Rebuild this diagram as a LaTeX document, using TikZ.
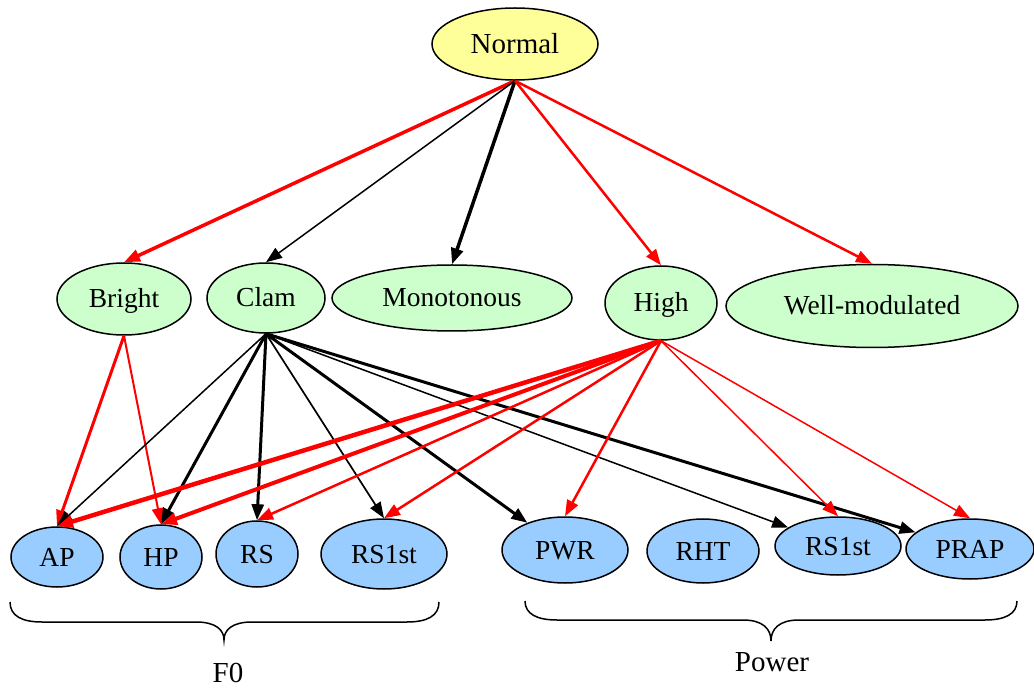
\documentclass[tikz,border=0pt]{standalone}
\usepackage{fontspec}
\setmainfont{Liberation Serif}
\usetikzlibrary{arrows.meta,shapes.geometric}
\definecolor{topfill}{RGB}{255,255,153}
\definecolor{midfill}{RGB}{204,255,204}
\definecolor{lowfill}{RGB}{153,204,255}
\definecolor{linkred}{RGB}{255,0,0}
\tikzset{
  state/.style={ellipse, draw=black, line width=1.5pt, inner sep=0pt,
    font=\fontsize{27.5}{30}\selectfont, text height=18pt, text depth=0pt},
  rootstate/.style={state, fill=topfill, font=\fontsize{29}{32}\selectfont, text height=19pt},
  midstate/.style={state, fill=midfill},
  lowstate/.style={state, fill=lowfill},
  link/.style={-{Triangle[length=16pt,width=12pt]}, line width=#1pt},
  blk/.style={link=#1, draw=black},
  rd/.style={link=#1, draw=linkred},
  bracepath/.style={draw=black, line width=1.5pt},
  grouplabel/.style={font=\fontsize{29}{32}\selectfont, inner sep=0pt},
}
\begin{document}
\begin{tikzpicture}[x=1pt,y=-1pt]
\useasboundingbox (0,0) rectangle (1034,692);

% top level
\node[rootstate, minimum width=166pt, minimum height=72pt] (normal) at (515,44) {Normal};

% middle level
\node[midstate, minimum width=134pt, minimum height=72pt] (bright) at (124,299) {Bright};
\node[midstate, minimum width=118pt, minimum height=70pt] (clam) at (266,298) {Clam};
\node[midstate, minimum width=240pt, minimum height=66pt] (mono) at (452,298) {Monotonous};
\node[midstate, minimum width=112pt, minimum height=74pt] (high) at (661,303) {High};
\node[midstate, minimum width=292pt, minimum height=83pt] (wellmod) at (872,306) {Well-modulated};

% bottom level: F0 features
\node[lowstate, minimum width=92pt, minimum height=60pt] (ap) at (57,557) {AP};
\node[lowstate, minimum width=82pt, minimum height=64pt] (hp) at (161,557) {HP};
\node[lowstate, minimum width=82pt, minimum height=66pt] (rs) at (257,554) {RS};
\node[lowstate, minimum width=126pt, minimum height=70pt] (rsfirst) at (384,554) {RS1st};

% bottom level: power features
\node[lowstate, minimum width=126pt, minimum height=66pt] (pwr) at (565,550) {PWR};
\node[lowstate, minimum width=112pt, minimum height=64pt] (rht) at (703,551) {RHT};
\node[lowstate, minimum width=126pt, minimum height=58pt] (rspow) at (838,546) {RS1st};
\node[lowstate, minimum width=128pt, minimum height=60pt] (prap) at (970,549) {PRAP};

% links from Normal
\draw[rd=3.5] (normal.south) -- (bright.north);
\draw[blk=1.5] (normal.south) -- (clam.north);
\draw[blk=3.5] (normal.south) -- (mono.north);
\draw[rd=2.5] (normal.south) -- (high.north);
\draw[rd=2.5] (normal.south) -- (wellmod.north);

% links from Bright
\draw[rd=3] (bright.south) -- (ap.north);
\draw[rd=2] (bright.south) -- (hp.north);

% links from Clam
\draw[blk=1.5] (clam.south) -- (ap.north);
\draw[blk=3] (clam.south) -- (hp.north);
\draw[blk=3] (clam.south) -- (rs.north);
\draw[blk=1.7] (clam.south) -- (rsfirst.north);
\draw[blk=3] (clam.south) -- (pwr);
\draw[blk=1.5] (clam.south) -- (rspow);
\draw[blk=3] (clam.south) -- (prap);

% links from High
\draw[rd=4.5] (high.south) -- (ap.north);
\draw[rd=4] (high.south) -- (hp.north);
\draw[rd=2.5] (high.south) -- (rs.north);
\draw[rd=2.5] (high.south) -- (rsfirst.north);
\draw[rd=2.5] (high.south) -- (pwr.north);
\draw[rd=1.5] (high.south) -- (rspow.north);
\draw[rd=1.5] (high.south) -- (prap.north);

% group braces
\draw[bracepath] (10,602) .. controls (10,616) and (22,622) .. (42,622)
  -- (196,622) .. controls (216,622) and (224,630) .. (224,640)
  .. controls (224,630) and (232,622) .. (252,622)
  -- (407,622) .. controls (427,622) and (439,616) .. (439,602);
\node[grouplabel] (fzero) at (228,673) {F0};

\draw[bracepath] (525,601) .. controls (525,614) and (537,620) .. (557,620)
  -- (743,620) .. controls (763,620) and (771,629) .. (771,641)
  .. controls (771,629) and (779,620) .. (799,620)
  -- (985,620) .. controls (1005,620) and (1017,614) .. (1017,601);
\node[grouplabel] (power) at (772,662) {Power};
\end{tikzpicture}
\end{document}
